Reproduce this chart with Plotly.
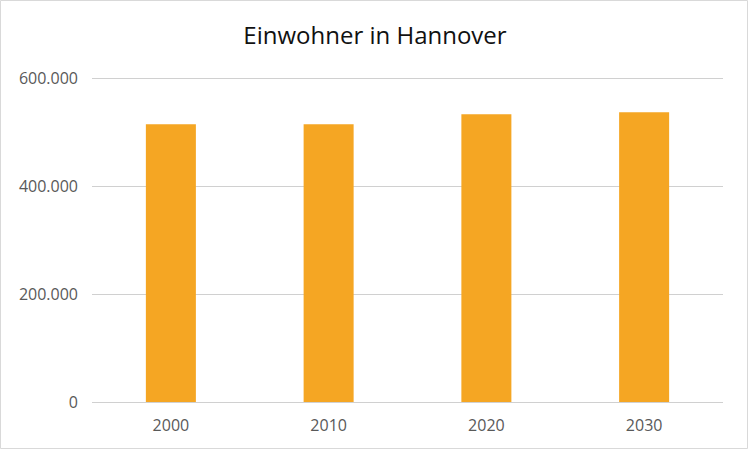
import plotly.graph_objects as go

years = ["2000", "2010", "2020", "2030"]
population = [514500, 514500, 532800, 536500]
y_ticks = [0, 200000, 400000, 600000]
y_tick_labels = ["0", "200.000", "400.000", "600.000"]

W, H = 750, 450
L, R, T, B = 92, 27, 76, 48
pw, ph = W - L - R, H - T - B
ymax = 600000 * (1 + 2 / 324)

fig = go.Figure(go.Bar(x=years, y=population, marker_color="#F5A623",
                       marker_line_width=0))

def px_to_paper_x(px):
    return (px - L) / pw

def px_to_paper_y(py):
    return (H - B - py) / ph

fig.update_layout(
    width=W, height=H,
    margin=dict(l=L, r=R, t=T, b=B),
    paper_bgcolor="white", plot_bgcolor="white",
    bargap=0.683,
    showlegend=False,
    title=dict(text="Einwohner in Hannover", x=0.5, xanchor="center",
               y=1 - 36 / H, yanchor="middle",
               font=dict(family="Open Sans, Noto Sans, sans-serif", size=24, color="#111111")),
    font=dict(family="Open Sans, Noto Sans, sans-serif", size=16, color="#595959"),
    xaxis=dict(type="category", showgrid=False, showline=True, linecolor="#d0d0d0",
               linewidth=1, ticks="", ticklabelstandoff=9),
    yaxis=dict(range=[0, ymax], tickvals=y_ticks, ticktext=y_tick_labels,
               showgrid=True, gridcolor="#d0d0d0", gridwidth=1, zeroline=False,
               showline=False, ticks="", ticklabelstandoff=13),
    shapes=[dict(type="rect", xref="paper", yref="paper",
                 x0=px_to_paper_x(0.5), x1=px_to_paper_x(747.5),
                 y0=px_to_paper_y(448.5), y1=px_to_paper_y(0.5),
                 line=dict(color="#d9d9d9", width=1), fillcolor="rgba(0,0,0,0)",
                 layer="below")],
)

fig.write_html("out.html")
